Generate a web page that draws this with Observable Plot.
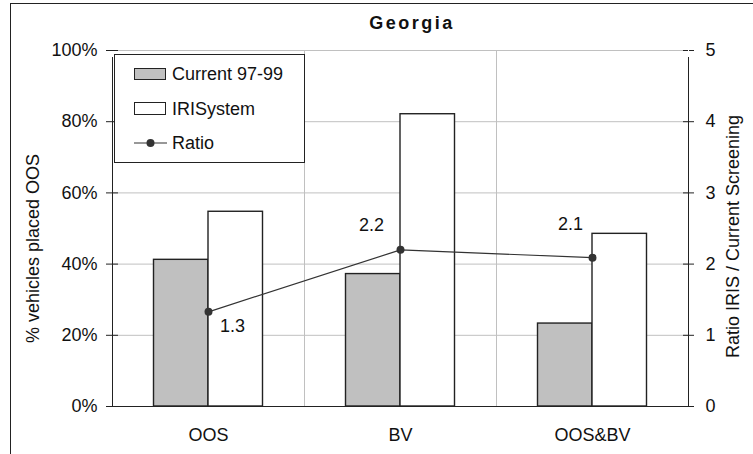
<!DOCTYPE html>
<html><head><meta charset="utf-8">
<script src="https://cdn.jsdelivr.net/npm/d3@7"></script>
<script src="https://cdn.jsdelivr.net/npm/@observablehq/plot@0.6"></script>
<style>
body{margin:0;background:#fff;}
#wrap{position:relative;width:753px;height:454px;overflow:hidden;font-family:"Liberation Sans",Arial,sans-serif;color:#111;}
#border{position:absolute;left:10px;top:3px;width:800px;height:500px;border-left:1px solid #222;border-top:1px solid #222;}
#chart{position:absolute;left:0;top:0;}
#title{position:absolute;left:124px;width:576px;top:12px;text-align:center;font-weight:bold;font-size:18px;letter-spacing:2.5px;line-height:22px;}
#legend{position:absolute;left:114px;top:54px;width:191px;height:109px;border:1px solid #222;background:#fff;box-sizing:border-box;}
.sw{position:absolute;left:19px;width:32px;border:1px solid #222;box-sizing:border-box;}
.lt{position:absolute;left:57px;font-size:18px;line-height:20px;}
</style>
</head><body>
<div id="wrap">
  <div id="border"></div>
  <div id="chart"></div>
  <div id="title">Georgia</div>
  <div id="legend"></div>
</div>
<script>
const categories = ["OOS", "BV", "OOS&BV"];
const currentValues = [0.412, 0.372, 0.233];
const irisValues = [0.547, 0.821, 0.485];
const ratioValues = [1.33, 2.20, 2.09];
const ratioLabels = ["1.3", "2.2", "2.1"];
const leftTicks = [0, 0.2, 0.4, 0.6, 0.8, 1];
const rightTicks = [0, 1, 2, 3, 4, 5];
const seriesNames = ["Current 97-99", "IRISystem", "Ratio"];
const ratioMax = 5;

const rows = categories.map((c, i) => ({cat: c, current: currentValues[i], iris: irisValues[i], ratio: ratioValues[i], label: ratioLabels[i]}));

const W = 753, H = 454, ML = 112, MR = 65, MT = 50, MB = 48;
const plotW = W - ML - MR;
const bw = plotW / categories.length;
const ink = "#222";
const grid = "#c0c0c0";
const font = {fontSize: 18, fontFamily: "Liberation Sans, Arial, sans-serif"};

const chart = Plot.plot({
  width: W, height: H,
  marginLeft: ML, marginRight: MR, marginTop: MT, marginBottom: MB,
  style: {fontFamily: "Liberation Sans, Arial, sans-serif", fontSize: "18px", color: "#111", background: "transparent"},
  x: {type: "band", domain: categories, padding: 0},
  y: {domain: [0, 1]},
  marks: [
    Plot.gridY(leftTicks.slice(1), {stroke: grid, strokeOpacity: 1}),
    Plot.ruleX(categories.slice(1), {x: d => d, dx: -bw / 2, y1: 0, y2: 1, stroke: grid, strokeOpacity: 1}),
    Plot.ruleX(categories.slice(1), {x: d => d, dx: -bw / 2, y1: 0, y2: 0.017, insetBottom: -7, stroke: ink}),
    Plot.ruleX(categories.slice(0, 1), {x: d => d, dx: -bw / 2, y1: 0, y2: 1, insetBottom: -7, stroke: ink}),
    Plot.ruleX(categories.slice(-1), {x: d => d, dx: bw / 2, y1: 0, y2: 1, insetBottom: -7, stroke: ink}),
    Plot.barY(rows, {x: "cat", y: "current", fill: "#c0c0c0", stroke: ink, strokeWidth: 1.4, insetLeft: 41.5, insetRight: 96}),
    Plot.barY(rows, {x: "cat", y: "iris", fill: "#ffffff", stroke: ink, strokeWidth: 1.4, insetLeft: 96, insetRight: 41.5}),
    Plot.ruleY([0], {stroke: ink, insetLeft: -6, insetRight: -5}),
    Plot.ruleY(leftTicks, {stroke: ink, insetRight: plotW - 6}),
    Plot.ruleY(rightTicks.map(t => t / ratioMax), {stroke: ink, insetLeft: plotW - 5}),
    Plot.axisY({anchor: "left", ticks: leftTicks, tickFormat: d3.format(".0%"), tickSize: 6, tickPadding: 9, stroke: ink, label: null, ...font}),
    Plot.axisY({anchor: "right", ticks: rightTicks.map(t => t / ratioMax), tickFormat: d => String(Math.round(d * ratioMax)), tickSize: 5, tickPadding: 12, stroke: ink, label: null, ...font}),
    Plot.axisX({tickSize: 0, tickPadding: 22, label: null, ...font}),
    Plot.line(rows, {x: "cat", y: d => d.ratio / ratioMax, stroke: "#333", strokeWidth: 1.2}),
    Plot.dot(rows, {x: "cat", y: d => d.ratio / ratioMax, r: 4, fill: "#333", stroke: "none"}),
    Plot.text(rows.slice(0, 1), {x: "cat", y: d => d.ratio / ratioMax, text: "label", dx: 24, dy: 14, fill: "#111", ...font}),
    Plot.text(rows.slice(1, 2), {x: "cat", y: d => d.ratio / ratioMax, text: "label", dx: -29, dy: -25, fill: "#111", ...font}),
    Plot.text(rows.slice(2, 3), {x: "cat", y: d => d.ratio / ratioMax, text: "label", dx: -22, dy: -33, fill: "#111", ...font}),
    Plot.text(["% vehicles placed OOS"], {frameAnchor: "left", textAnchor: "middle", rotate: -90, dx: -79, dy: 20, fill: "#111", ...font}),
    Plot.text(["Ratio IRIS / Current Screening"], {frameAnchor: "right", textAnchor: "middle", rotate: -90, dx: 45, dy: 8, fill: "#111", ...font})
  ]
});
document.getElementById("chart").appendChild(chart);

const lg = document.getElementById("legend");
lg.innerHTML = `
  <div class="sw" style="top:13px;height:12px;background:#c0c0c0"></div>
  <div class="lt" style="top:9px">${seriesNames[0]}</div>
  <div class="sw" style="top:47px;height:13px;background:#fff"></div>
  <div class="lt" style="top:44px">${seriesNames[1]}</div>
  <svg style="position:absolute;left:18px;top:81px" width="36" height="14"><line x1="1" x2="34" y1="7" y2="7" stroke="#333" stroke-width="1.2"/><circle cx="17.5" cy="7" r="4" fill="#333"/></svg>
  <div class="lt" style="top:78px">${seriesNames[2]}</div>`;
</script>
</body></html>
